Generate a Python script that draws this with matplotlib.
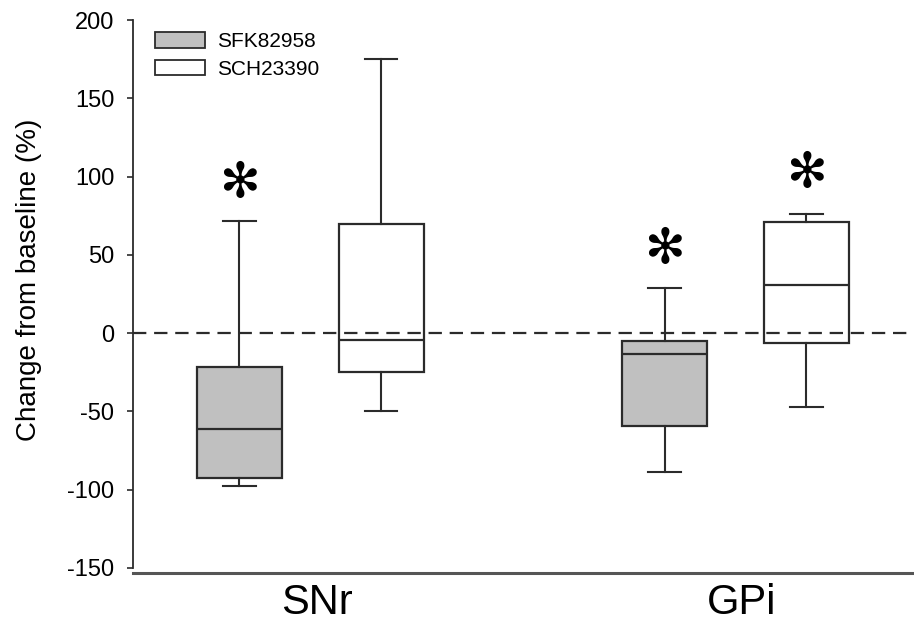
"""Box plot: change from baseline in SNr and GPi for SFK82958 and SCH23390."""

import matplotlib

matplotlib.use("Agg")
import matplotlib.pyplot as plt
from matplotlib.patches import Patch

plt.rcParams.update({
    "font.family": ["Liberation Sans", "DejaVu Sans"],
    "font.size": 17,
    "axes.unicode_minus": False,
})

# Data
regions = ["SNr", "GPi"]
drugs = ["SFK82958", "SCH23390"]
# per box, order: SNr-SFK, SNr-SCH, GPi-SFK, GPi-SCH
whis_lo = [-97.5, -50, -89, -47]
q1 = [-92.5, -25, -59.5, -6.5]
median = [-61, -4.5, -13.5, 30.5]
q3 = [-22, 69.5, -5, 71]
whis_hi = [71.5, 175, 28.5, 76]
# significance stars: box index and height
star_box = [0, 2, 3]
star_y = [96, 54, 102]

COL_LINE = "#2b2b2b"
COL_FILL = ["#c0c0c0", "#ffffff"]

# layout
group_x = [1.25, 4.25]
label_x = [1.30, 4.29]
offset = 0.5
positions = [g + s * offset for g in group_x for s in (-1, 1)]

fig = plt.figure(figsize=(9.14, 6.26), dpi=100)
ax = fig.add_axes([0.1455, 0.0847, 0.8545, 0.8833])

stats = []
for i in range(len(median)):
    stats.append(dict(med=median[i], q1=q1[i], q3=q3[i],
                      whislo=whis_lo[i], whishi=whis_hi[i], fliers=[]))

bp = ax.bxp(stats, positions=positions, widths=0.6, capwidths=0.23,
            patch_artist=True, showfliers=False,
            boxprops=dict(edgecolor=COL_LINE, linewidth=1.6),
            medianprops=dict(color=COL_LINE, linewidth=1.6),
            whiskerprops=dict(color=COL_LINE, linewidth=1.5),
            capprops=dict(color=COL_LINE, linewidth=1.5))
for i, box in enumerate(bp["boxes"]):
    box.set_facecolor(COL_FILL[i % 2])
    box.set_zorder(2)

ax.axhline(0, color=COL_LINE, linewidth=1.6, linestyle=(0, (6, 3.5)), zorder=3)

for b, y in zip(star_box, star_y):
    ax.text(positions[b], y, "\u273b", ha="center", va="center",
            fontsize=35, color="black", family="DejaVu Sans")

ax.set_xlim(0, 5.51)
ax.set_ylim(-153.3, 200)
ax.set_yticks(range(-150, 201, 50))
ax.set_xticks(label_x)
ax.set_xticklabels(regions, fontsize=30)
ax.tick_params(axis="x", length=0, pad=7)
ax.tick_params(axis="y", length=4.5, width=1.2, color=COL_LINE, pad=9,
               labelsize=17)
ax.set_ylabel("Change from baseline (%)", fontsize=20)
ax.yaxis.set_label_coords(-0.117, 0.53)

for side in ("top", "right"):
    ax.spines[side].set_visible(False)
ax.spines["left"].set_bounds(-150, 200)
ax.spines["left"].set_color(COL_LINE)
ax.spines["left"].set_linewidth(1.3)
ax.spines["bottom"].set_color("#555555")
ax.spines["bottom"].set_linewidth(2.2)

handles = [Patch(facecolor=COL_FILL[k], edgecolor=COL_LINE, linewidth=1.3)
           for k in range(2)]
ax.legend(handles, drugs, loc="upper left", frameon=False, fontsize=15,
          handlelength=2.4, handleheight=0.8, handletextpad=0.6,
          labelspacing=0.4, borderaxespad=0, borderpad=0,
          bbox_to_anchor=(155 / 914, 1 - 32 / 626), bbox_transform=fig.transFigure)

fig.savefig("out.png", dpi=100)
